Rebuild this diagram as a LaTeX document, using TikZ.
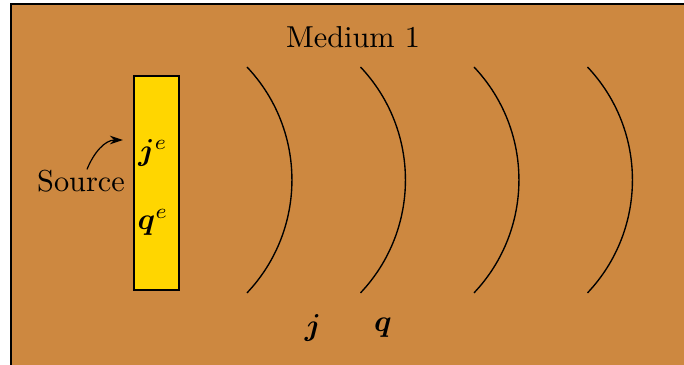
\documentclass[tikz,border=0pt]{standalone}
\usepackage{amsmath,bm}
\usetikzlibrary{arrows.meta}
\definecolor{mediumbrown}{RGB}{205,136,64}
\definecolor{sourceyellow}{RGB}{255,214,0}
\begin{document}
\begin{tikzpicture}[x=0.33pt,y=-0.33pt,
  wave/.style={draw=black,line width=0.45pt},
  lbl/.style={inner sep=0pt}]
\useasboundingbox (0,0) rectangle (684,365);
\clip (0,0) rectangle (684,365);
\fill[white] (0,0) rectangle (684,365);
\draw[fill=mediumbrown,line width=0.5pt] (11,4) rectangle (720,400);
\node[draw=black,fill=sourceyellow,minimum width=45*0.33pt,minimum height=214*0.33pt,inner sep=0pt,line width=0.4pt] (src) at (156.5,183) {};
\node[lbl] (je) at (153,153) {$\bm{j}^{e}$};
\node[lbl] (qe) at (153,222) {$\bm{q}^{e}$};
\node[lbl] (source) at (81,181) {Source};
\coordinate (tip) at (123,140);
\draw[-{Stealth[length=4.3pt,width=2.8pt]},line width=0.4pt] (source.north) ++(6,0) to[out=68,in=180] (tip);
\node[lbl] (medium) at (353,37) {Medium 1};
\foreach \dx in {0,113.5,227,340.5}{
  \draw[wave] (247+\dx,67) arc[start angle=-43.4,end angle=43.4,radius=164.4];
}
\node[lbl] (j) at (313,328) {$\bm{j}$};
\node[lbl] (q) at (383,328) {$\bm{q}$};
\end{tikzpicture}
\end{document}
